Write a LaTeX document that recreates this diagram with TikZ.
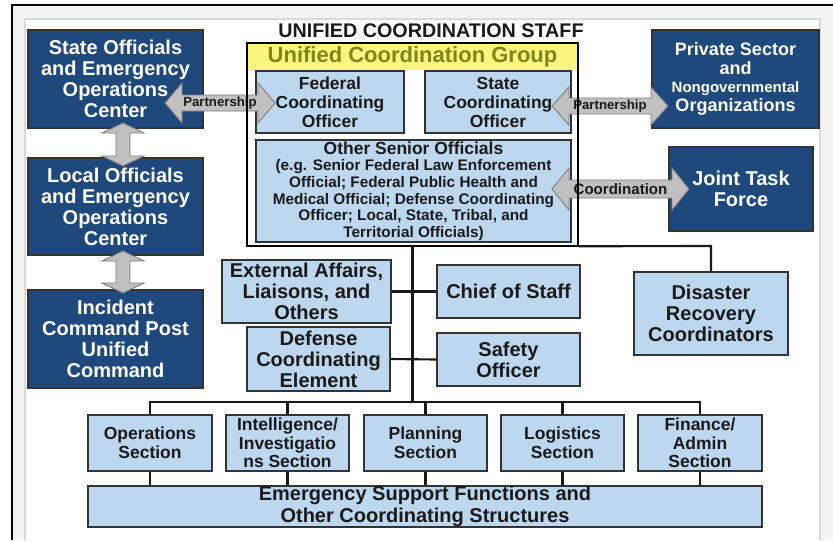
\documentclass[tikz,border=0pt]{standalone}
\usepackage{fontspec}
\setmainfont{Liberation Sans}
\usetikzlibrary{calc}
\definecolor{dkblue}{HTML}{1F497D}
\definecolor{ltblue}{HTML}{BDD7EE}
\definecolor{ucgyellow}{HTML}{FAF77C}
\definecolor{ucgtext}{HTML}{84841C}
\definecolor{arrowfill}{HTML}{C0C0C0}
\definecolor{arrowline}{HTML}{7F7F7F}
\definecolor{boxline}{HTML}{333333}
\definecolor{panelgray}{HTML}{F3F3F3}
\definecolor{panelline}{HTML}{DADADA}
\definecolor{txt}{HTML}{1A1A1A}
\newcommand{\fs}[2]{\fontsize{#1}{#2}\selectfont}
% name, style, x1, y1, x2, y2, text   (pixel coordinates)
\newcommand{\pxbox}[7]{%
  \node[#2, minimum width={(#5-#3)*0.75pt}, minimum height={(#6-#4)*0.75pt}] (#1) at ({(#3+#5)/2},{(#4+#6)/2}) {#7};}
% name, xa, xb, y, head half height, shaft half height, label
\newcommand{\harrow}[7]{%
  \filldraw[blockarrow] (#2,#4) -- ({#2+17},{#4-#5}) -- ({#2+17},{#4-#6}) -- ({#3-17},{#4-#6}) -- ({#3-17},{#4-#5}) -- (#3,#4)
    -- ({#3-17},{#4+#5}) -- ({#3-17},{#4+#6}) -- ({#2+17},{#4+#6}) -- ({#2+17},{#4+#5}) -- cycle;
  \node[arrowlabel] (#1) at ({(#2+#3)/2},#4) {#7};}
% name, x, ya, yb, head half width, shaft half width
\newcommand{\varrow}[6]{%
  \filldraw[blockarrow] (#2,#3) -- ({#2+#5},{#3+10}) -- ({#2+#6},{#3+10}) -- ({#2+#6},{#4-10}) -- ({#2+#5},{#4-10}) -- (#2,#4)
    -- ({#2-#5},{#4-10}) -- ({#2-#6},{#4-10}) -- ({#2-#6},{#3+10}) -- ({#2-#5},{#3+10}) -- cycle;
  \coordinate (#1) at (#2,{(#3+#4)/2});}
\tikzset{
  darkbox/.style={fill=dkblue, draw=boxline, line width=1pt, text=white, align=center, inner sep=0pt,
    font=\bfseries\fs{15}{15.75}},
  lightbox/.style={fill=ltblue, draw=boxline, line width=1pt, text=txt, align=center, inner sep=0pt,
    font=\bfseries\fs{15}{15.75}},
  secbox/.style={lightbox, font=\bfseries\fs{13.1}{13.9}},
  offbox/.style={lightbox, font=\bfseries\fs{13.1}{14.25}},
  osobox/.style={lightbox, font=\bfseries\fs{11.5}{12.5}},
  privbox/.style={darkbox, font=\bfseries\fs{13.5}{14}},
  esfbox/.style={lightbox, font=\bfseries\fs{15}{16}},
  container/.style={inner sep=0pt},
  yellowbar/.style={fill=ucgyellow, text=ucgtext, inner sep=0pt, font=\bfseries\fs{16.5}{17}},
  blockarrow/.style={fill=arrowfill, draw=arrowline, line width=0.7pt, line join=miter},
  arrowlabel/.style={text=txt, inner sep=0pt, font=\bfseries\fs{9.9}{10}},
  conn/.style={draw=black!90, line width=1.6pt},
  outline/.style={draw=black, line width=1.5pt},
}
\begin{document}
\begin{tikzpicture}[x=0.75pt, y=-0.75pt]
\useasboundingbox (0,0) rectangle (833,540);
% frame
\fill[white] (0,0) rectangle (833,540);
\fill[panelgray] (12,5) rectangle (833,540);
\fill[white] (25,19) rectangle (820,540);
\draw[panelline, line width=0.8pt] (25,540) -- (25,19) -- (820,19) -- (820,540);
\draw[black, line width=1.9pt] (12,540) -- (12,5) -- (833,5);

\node[font=\bfseries\fs{14.8}{16}, text=txt, inner sep=0pt] (title) at (431,31) {UNIFIED COORDINATION STAFF};

% container (outline drawn later) and yellow bar
\pxbox{ucg}{container}{247}{43}{578}{246}{}
\pxbox{ucgbar}{yellowbar}{247}{43}{578}{70}{Unified Coordination Group}

% connectors
\coordinate (bus) at (412.5,402);
\draw[conn] (ucg.south) -- (ucg.south |- bus);
\draw[conn] (ucg.south east) -- (711,246) -- (711,272);

% left column
\pxbox{so}{darkbox}{28}{30}{203}{128}{State Officials\\and Emergency\\Operations\\Center}
\pxbox{lo}{darkbox}{28}{158}{203}{255}{Local Officials\\and Emergency\\Operations\\Center}
\pxbox{icp}{darkbox}{28}{290}{203}{388}{Incident\\Command Post\\Unified\\Command}

% right column
\pxbox{pso}{privbox}{652}{30}{819}{128}{Private Sector\\and\\{\fs{11.25}{14}Nongovernmental}\\Organizations}
\pxbox{jtf}{darkbox}{669}{147}{813}{231}{Joint Task\\Force}

% inside container
\pxbox{fco}{offbox}{256}{71}{404}{133}{Federal\\Coordinating\\Officer}
\pxbox{sco}{offbox}{425}{71}{571}{133}{State\\Coordinating\\Officer}
\pxbox{oso}{osobox}{256}{140}{571}{242}{{\fs{13.1}{12.5}Other Senior Officials}\\(e.g. Senior Federal Law Enforcement\\Official; Federal Public Health and\\Medical Official; Defense Coordinating\\Officer; Local, State, Tribal, and\\Territorial Officials)}

% staff boxes
\pxbox{ext}{lightbox}{222}{260}{391}{323}{External Affairs,\\Liaisons, and\\Others}
\pxbox{dce}{lightbox}{247}{327}{390}{391}{Defense\\Coordinating\\Element}
\pxbox{cos}{lightbox}{437}{265}{580}{318}{Chief of Staff}
\pxbox{safe}{lightbox}{437}{333}{580}{386}{Safety\\Officer}
\pxbox{drc}{lightbox}{634}{272}{788}{355}{Disaster\\Recovery\\Coordinators}

% sections
\pxbox{ops}{secbox}{88}{415}{212}{471}{Operations\\Section}
\pxbox{intel}{secbox}{226}{415}{349}{471}{Intelligence/\\Investigatio\\ns Section}
\pxbox{plan}{secbox}{364}{415}{487}{471}{Planning\\Section}
\pxbox{log}{secbox}{501}{415}{624}{471}{Logistics\\Section}
\pxbox{fin}{secbox}{638}{415}{762}{471}{Finance/\\Admin\\Section}
\pxbox{esf}{esfbox}{88}{486}{762}{527}{Emergency Support Functions and\\Other Coordinating Structures}

\draw[conn] (ext.east) -- (cos.west);
\draw[conn] (dce.east) -- (safe.west);
\draw[conn] (ops.north) |- (bus) -| (fin.north);
\draw[conn] (intel.north) -- (intel.north |- bus);
\draw[conn] (plan.north) -- (plan.north |- bus);
\draw[conn] (log.north) -- (log.north |- bus);
\draw[conn] (ops.south) -- (ops.south |- esf.north);
\draw[conn] (intel.south) -- (intel.south |- esf.north);
\draw[conn] (plan.south) -- (plan.south |- esf.north);
\draw[conn] (log.south) -- (log.south |- esf.north);
\draw[conn] (fin.south) -- (fin.south |- esf.north);

% block arrows
\harrow{pa1}{165}{275}{103}{20}{8}{Partnership}
\harrow{pa2}{552}{668}{106}{19}{8}{Partnership}
\harrow{coord}{552}{689}{189}{21}{9}{\fs{11.3}{12}Coordination}
\varrow{va1}{123}{123}{166}{21}{7}
\varrow{va2}{123}{251}{293}{21}{7}

% container outline on top
\draw[outline] (ucg.north west) rectangle (ucg.south east);
\end{tikzpicture}
\end{document}
